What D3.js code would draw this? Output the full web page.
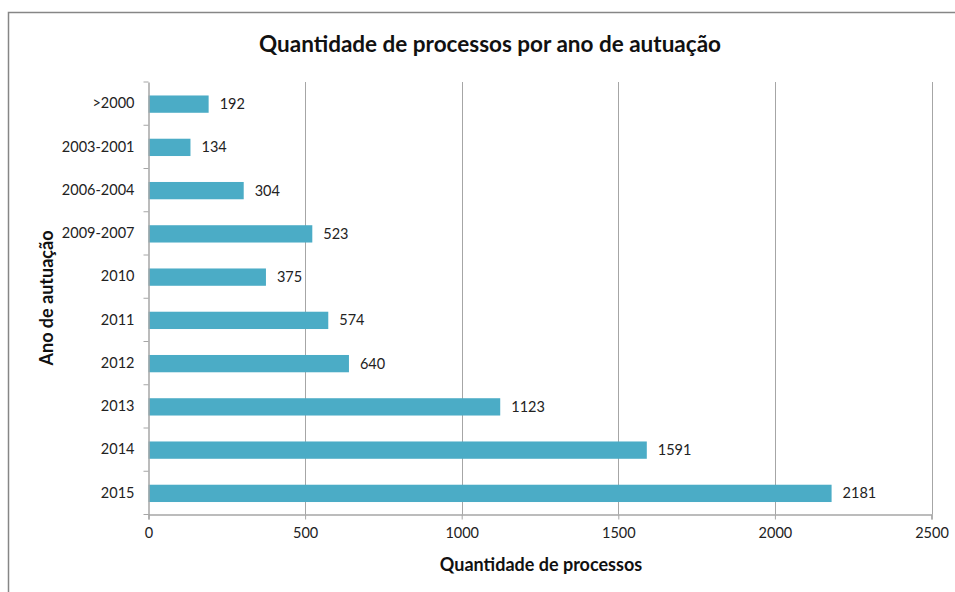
<!DOCTYPE html>
<html><head><meta charset="utf-8">
<script src="https://cdn.jsdelivr.net/npm/d3@7"></script>
<style>body{margin:0;background:#fff;} svg{display:block;}</style>
</head><body>
<svg id="chart" width="955" height="592"></svg>
<script>
const categories = [">2000","2003-2001","2006-2004","2009-2007","2010","2011","2012","2013","2014","2015"];
const values = [192,134,304,523,375,574,640,1123,1591,2181];
const xTicks = [0,500,1000,1500,2000,2500];
const title = "Quantidade de processos por ano de autuação";
const xTitle = "Quantidade de processos";
const yTitle = "Ano de autuação";

const svg = d3.select("#chart");
const font = "Lato, 'Open Sans', sans-serif";
const L = 148.5, R = 931.5, T = 82, B = 514.5;

svg.append("rect").attr("x",8.5).attr("y",12.5).attr("width",960).attr("height",600)
  .attr("fill","#fff").attr("stroke","#868686").attr("stroke-width",1.5);

const x = d3.scaleLinear().domain([0,2500]).range([L,R]);
const y = d3.scaleBand().domain(categories).range([T,B]).paddingInner(0.6).paddingOuter(0.3);
const yb = d3.scaleBand().domain(categories).range([T,B]);

// grid
svg.append("g").selectAll("line").data(xTicks.slice(1)).join("line")
  .attr("x1",d=>Math.round(x(d))+0.5).attr("x2",d=>Math.round(x(d))+0.5)
  .attr("y1",T).attr("y2",B).attr("stroke","#a6a6a6").attr("stroke-width",1);

// bars
svg.append("g").selectAll("rect").data(values).join("rect")
  .attr("x",x(0)).attr("y",(d,i)=>y(categories[i])+0.5)
  .attr("width",d=>x(d)-x(0)).attr("height",y.bandwidth())
  .attr("fill","#4BACC6");

// value labels
svg.append("g").selectAll("text").data(values).join("text")
  .attr("x",d=>x(d)+11).attr("y",(d,i)=>y(categories[i])+y.bandwidth()/2+0.5)
  .attr("dy","0.35em").attr("font-family",font).attr("font-size",14.5).attr("fill","#222")
  .text(d=>d);

// x axis
const xa = svg.append("g").attr("transform",`translate(0,${B})`)
  .call(d3.axisBottom(x).tickValues(xTicks).tickSize(5).tickPadding(8).tickFormat(d3.format("d")));
xa.select(".domain").attr("stroke","#a6a6a6").attr("stroke-width",1.5);
xa.selectAll(".tick line").attr("stroke","#a6a6a6");
xa.selectAll("text").attr("font-family",font).attr("font-size",14.5).attr("fill","#222");

// y axis
const ya = svg.append("g").attr("transform",`translate(${L},0)`)
  .call(d3.axisLeft(yb).tickSize(0).tickPadding(14));
ya.select(".domain").attr("stroke","#a6a6a6").attr("stroke-width",1.5);
ya.selectAll("text").attr("font-family",font).attr("font-size",14.5).attr("fill","#222");
// y boundary ticks
const bounds = categories.map(c=>yb(c)).concat([B]);
svg.append("g").selectAll("line").data(bounds).join("line")
  .attr("x1",L-5).attr("x2",L).attr("y1",d=>d).attr("y2",d=>d)
  .attr("stroke","#a6a6a6");

// titles
svg.append("text").attr("x",490).attr("y",52).attr("text-anchor","middle")
  .attr("font-family",font).attr("font-weight","bold").attr("font-size",22.5).attr("fill","#111")
  .text(title);
svg.append("text").attr("x",541).attr("y",571).attr("text-anchor","middle")
  .attr("font-family",font).attr("font-weight","bold").attr("font-size",18).attr("fill","#111")
  .text(xTitle);
svg.append("text").attr("transform","translate(53,298) rotate(-90)").attr("text-anchor","middle")
  .attr("font-family",font).attr("font-weight","bold").attr("font-size",18).attr("fill","#111")
  .text(yTitle);
</script>
</body></html>
